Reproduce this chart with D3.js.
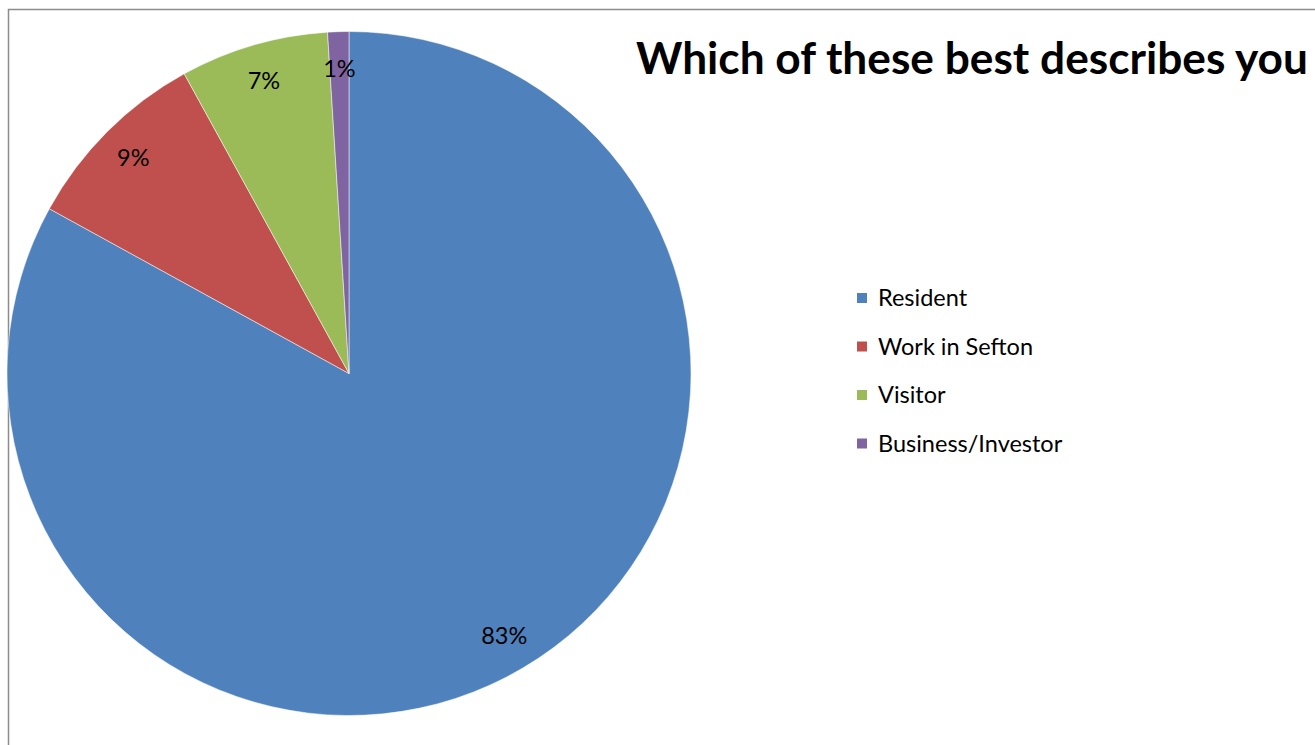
<!DOCTYPE html>
<html>
<head>
<meta charset="utf-8">
<script src="https://cdn.jsdelivr.net/npm/d3@7"></script>
<style>
  html, body { margin: 0; padding: 0; background: #fff; }
  svg { display: block; }
  text { font-family: Lato, "Open Sans", sans-serif; fill: #000; }
</style>
</head>
<body>
<svg id="chart" width="1315" height="745"></svg>
<script>
// Survey answers: share of respondents (%)
const categories = ["Resident", "Work in Sefton", "Visitor", "Business/Investor"];
const shares = [83, 9, 7, 1];
const colors = ["#4F81BD", "#C0504D", "#9BBB59", "#8064A2"];
const title = "Which of these best describes you";

const svg = d3.select("#chart");

// Chart area frame (continues past the right and bottom edges)
svg.append("rect")
  .attr("x", 8.5).attr("y", 9.5)
  .attr("width", 1400).attr("height", 800)
  .attr("fill", "#fff")
  .attr("stroke", "#8c8c8c").attr("stroke-width", 1.5);

const cx = 349, cy = 373.5, radius = 342;
const data = categories.map((c, i) => ({ name: c, value: shares[i], color: colors[i] }));

const pie = d3.pie().value(d => d.value).sort(null);
const arc = d3.arc().innerRadius(0).outerRadius(radius);
const labelArc = d3.arc().innerRadius(305).outerRadius(305);

const g = svg.append("g").attr("transform", `translate(${cx},${cy})`);
const arcs = pie(data);

g.selectAll("path.slice").data(arcs).join("path")
  .attr("class", "slice")
  .attr("d", arc)
  .attr("fill", d => d.data.color)
  .attr("stroke", "#fff").attr("stroke-width", 0.5);

g.selectAll("text.pct").data(arcs).join("text")
  .attr("class", "pct")
  .attr("transform", d => `translate(${labelArc.centroid(d)})`)
  .attr("text-anchor", "middle")
  .attr("dy", "0.36em")
  .style("font-size", "23.5px")
  .text(d => d.data.value + "%");

// Title, sized to span its slot
const t = svg.append("text")
  .attr("x", 636).attr("y", 74)
  .style("font-size", "36px").style("font-weight", "bold")
  .text(title);
const w = t.node().getComputedTextLength();
t.style("font-size", (36 * 672 / w).toFixed(2) + "px");

// Legend
const legend = svg.append("g").attr("transform", "translate(857,298)");
const rowH = 48.5;
const items = legend.selectAll("g").data(data).join("g")
  .attr("transform", (d, i) => `translate(0,${i * rowH})`);
items.append("rect")
  .attr("x", 0).attr("y", -5).attr("width", 10).attr("height", 10)
  .attr("fill", d => d.color);
items.append("text")
  .attr("x", 21).attr("y", 0).attr("dy", "0.36em")
  .style("font-size", "23.5px")
  .text(d => d.name);
</script>
</body>
</html>
